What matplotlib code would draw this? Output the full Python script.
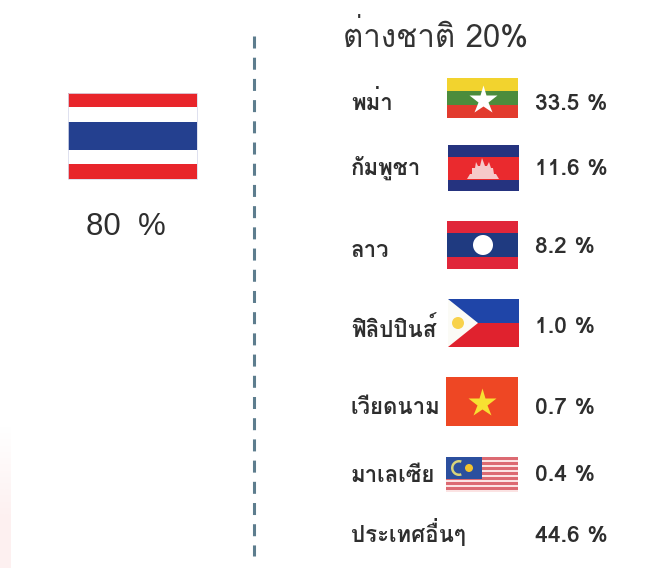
import matplotlib
matplotlib.use("Agg")
import matplotlib.pyplot as plt
from matplotlib.patches import Rectangle, Polygon, Circle, Wedge
import numpy as np

plt.rcParams['font.family'] = ['Loma', 'Anuphan', 'Liberation Sans', 'DejaVu Sans']

title = "ต่างชาติ 20%"
thai_share = "80  %"
countries = ["พม่า", "กัมพูชา", "ลาว", "ฟิลิปปินส์", "เวียดนาม", "มาเลเซีย", "ประเทศอื่นๆ"]
shares = [33.5, 11.6, 8.2, 1.0, 0.7, 0.4, 44.6]

# text baselines in pixels
name_y = [110, 175, 257, 337, 414, 482, 542]
share_y = [110, 175, 253, 333, 414, 481, 542]

RED = "#e8252b"
BLUE = "#24408f"
TEXT = "#2e2e2e"

fig = plt.figure(figsize=(6.64, 5.68), dpi=100)
ax = fig.add_axes([0, 0, 1, 1])
ax.axis("off")


def stripes(x0, x1, bands):
    for y0, y1, col in bands:
        ax.add_patch(Rectangle((x0, y0), x1 - x0, y1 - y0, fc=col, ec="none"))


# faint pink strip on the left edge
fade = np.array([[0.0], [1.0]])
cmap = matplotlib.colors.LinearSegmentedColormap.from_list("p", ["#ffffff", "#fdf0f0"])
ax.imshow(fade, extent=(0, 11, 568, 380), aspect="auto", cmap=cmap, zorder=0, interpolation="bilinear")
ax.set_xlim(0, 664)
ax.set_ylim(568, 0)

# thailand
stripes(68, 197, [(93, 107, RED), (107, 122, "#ffffff"), (122, 150, BLUE),
                  (150, 164, "#ffffff"), (164, 179, RED)])
ax.add_patch(Rectangle((68, 93), 129, 86, fc="none", ec="#d9dcec", lw=0.6))
ax.text(126, 235, thai_share, ha="center", va="baseline", fontsize=22.5,
        family=["Liberation Sans"], color=TEXT)

# divider
ax.plot([254, 254], [36, 556], color="#5d7d8e", lw=2.2, ls=(0, (3.93, 3.01)), solid_capstyle="butt")

ax.text(343, 47, title, ha="left", va="baseline", fontsize=22.5, color="#333333")

for name, val, ny, vy in zip(countries, shares, name_y, share_y):
    ax.text(351, ny, name, ha="left", va="baseline", fontsize=16, fontweight="bold", color=TEXT)
    ax.text(535, vy, f"{val} %", ha="left", va="baseline", fontsize=16.5, fontweight="bold", color=TEXT)

# myanmar
stripes(447, 518, [(78, 91, "#f2d32e"), (91, 105, "#4c8c3c"), (105, 118, "#e23b2e")])
ax.plot([483], [100], marker="*", ms=21, mfc="white", mec="none")

# cambodia
stripes(448, 519, [(145, 157, "#25337f"), (157, 180, "#ea2a2e"), (180, 191, "#25337f")])
ax.add_patch(Polygon([(467, 179), (470, 174), (472, 174), (472, 168), (475, 168), (476, 162),
                      (478, 166), (480, 166), (482, 158), (485, 166), (487, 166), (489, 162),
                      (491, 168), (493, 168), (494, 174), (496, 174), (499, 179)],
                     fc="#f6c9c9", ec="none"))

# laos
stripes(447, 518, [(221, 233, "#e0263a"), (233, 257, "#1f3a80"), (257, 269, "#e0263a")])
ax.add_patch(Circle((483, 245), 10, fc="white", ec="none"))

# philippines
stripes(448, 519, [(299, 323, "#1f45a8"), (323, 347, "#e0222e")])
ax.add_patch(Polygon([(448, 299), (478, 323), (448, 347)], fc="#fbfbf6", ec="none"))
ax.add_patch(Circle((458, 323), 6, fc="#f8d24a", ec="none"))

# vietnam
stripes(446, 518, [(377, 426, "#ee4724")])
ax.plot([482], [403], marker="*", ms=21, mfc="#f7e032", mec="none")

# malaysia
rows = np.arange(457, 492, 5)
stripes(446, 518, [(y, y + 2.5, "#dc6a72") for y in rows] + [(y + 2.5, y + 5, "#fbe3e3") for y in rows])
stripes(446, 482, [(457, 479, "#2b4f9e")])
ax.add_patch(Wedge((459, 468), 8, 70, 290, width=2.5, fc="#d9d47a", ec="none"))
ax.add_patch(Circle((469, 468), 4, fc="#f2c32e", ec="none"))

fig.savefig("out.png", dpi=100)
